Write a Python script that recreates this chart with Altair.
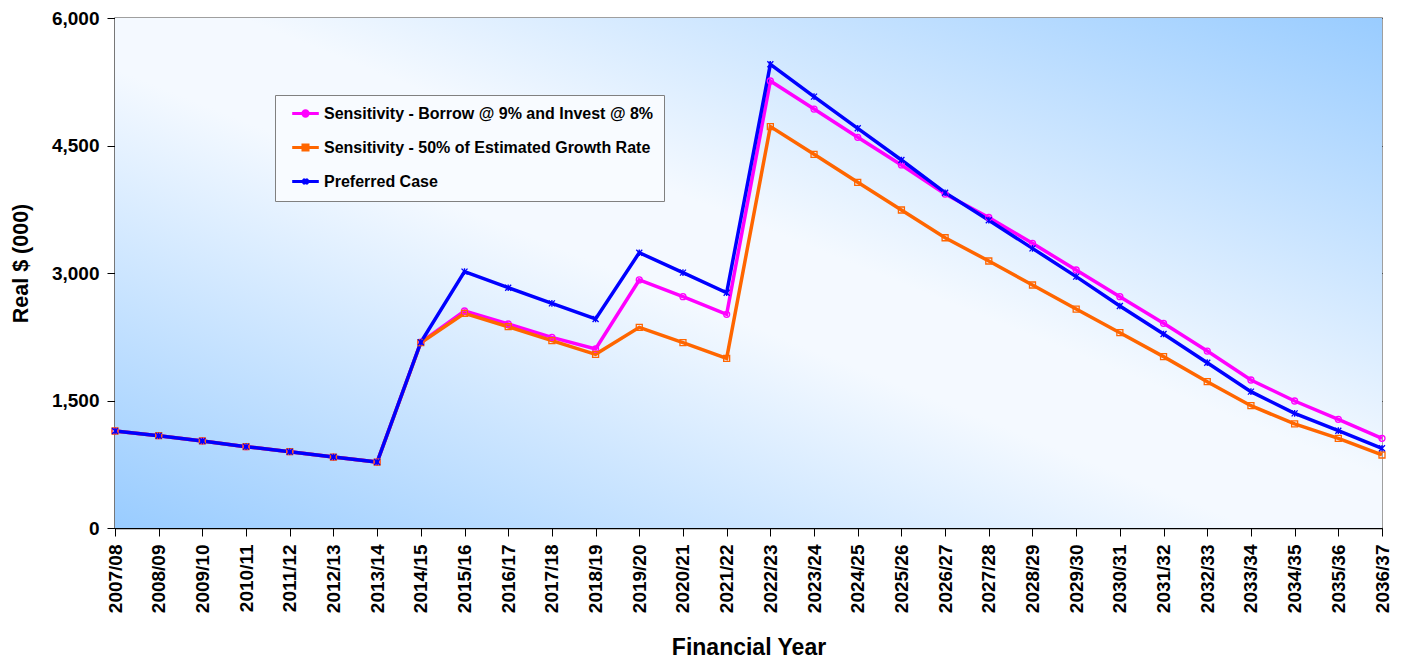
import altair as alt
import pandas as pd

# Financial years on the category axis
years = [
    "2007/08", "2008/09", "2009/10", "2010/11", "2011/12", "2012/13",
    "2013/14", "2014/15", "2015/16", "2016/17", "2017/18", "2018/19",
    "2019/20", "2020/21", "2021/22", "2022/23", "2023/24", "2024/25",
    "2025/26", "2026/27", "2027/28", "2028/29", "2029/30", "2030/31",
    "2031/32", "2032/33", "2033/34", "2034/35", "2035/36", "2036/37",
]

# Real $ (000) for each scenario
borrow = [
    1141, 1086, 1024, 957, 898, 835, 776, 2185, 2553, 2400, 2243, 2106,
    2918, 2721, 2514, 5259, 4929, 4596, 4271, 3929, 3653, 3349, 3035,
    2721, 2408, 2082, 1741, 1494, 1279, 1055,
]
growth = [
    1141, 1086, 1024, 957, 898, 835, 776, 2180, 2525, 2368, 2204, 2043,
    2361, 2180, 1996, 4722, 4396, 4067, 3741, 3415, 3141, 2859, 2576,
    2298, 2016, 1721, 1439, 1224, 1055, 859,
]
preferred = [
    1141, 1086, 1024, 957, 898, 835, 776, 2185, 3016, 2827, 2643, 2459,
    3239, 3004, 2768, 5455, 5075, 4702, 4329, 3945, 3620, 3290, 2957,
    2612, 2282, 1945, 1604, 1349, 1145, 938,
]

series_names = [
    "Sensitivity - Borrow @ 9% and Invest @ 8%",
    "Sensitivity - 50% of Estimated Growth Rate",
    "Preferred Case",
]
series_colors = ["#FF00FF", "#FF6600", "#0000FF"]

# marker glyphs for the plotted points
marker_paths = [
    "M1,0A1,1 0 1,1 -1,0A1,1 0 1,1 1,0Z",
    "M-1,-1L1,-1L1,1L-1,1Z",
    "M-1,-1L1,1M-1,1L1,-1M0,-1.1L0,1.1",
]
# legend glyphs: a short line with the marker in the middle
legend_paths = [
    "M-1.9,0L1.9,0M0.38,0A0.38,0.38 0 1,1 -0.38,0A0.38,0.38 0 1,1 0.38,0Z",
    "M-1.9,0L1.9,0M-0.36,-0.36L0.36,-0.36L0.36,0.36L-0.36,0.36Z",
    "M-1.9,0L1.9,0M-0.36,-0.36L0.36,0.36M-0.36,0.36L0.36,-0.36M0,-0.4L0,0.4",
]

rows = []
for name, vals in zip(series_names, [borrow, growth, preferred]):
    for yr, v in zip(years, vals):
        rows.append({"year": yr, "value": v, "series": name})
df = pd.DataFrame(rows)

W, H = 1267, 510
FONT = "Liberation Sans"

x_enc = alt.X(
    "year:N",
    sort=years,
    scale=alt.Scale(padding=0),
    axis=alt.Axis(
        title="Financial Year",
        labelAngle=270,
        labelAlign="right",
        labelBaseline="middle",
        labelPadding=8,
        titleFontSize=23,
        titleBaseline="middle",
        titleY=119,
        grid=False,
    ),
)
y_enc = alt.Y(
    "value:Q",
    scale=alt.Scale(domain=[0, 6000], nice=False),
    axis=alt.Axis(
        title="Real $ (000)",
        values=[0, 1500, 3000, 4500, 6000],
        format=",.0f",
        grid=True,
        labelPadding=8,
        titleFontSize=21.5,
        titleBaseline="middle",
        titleAlign="center",
        titleX=-94,
        titleY=245,
    ),
)

# diagonal light-blue / white wash behind the plot
background = alt.Chart(df).mark_rect(
    fill=alt.Gradient(
        gradient="linear",
        x1=0, y1=1, x2=1, y2=0,
        stops=[
            alt.GradientStop(color="#99CCFF", offset=0),
            alt.GradientStop(color="#F4F9FF", offset=0.45),
            alt.GradientStop(color="#F4F9FF", offset=0.55),
            alt.GradientStop(color="#99CCFF", offset=1),
        ],
    ),
).encode(
    x=alt.value(0), x2=alt.value(W), y=alt.value(0), y2=alt.value(H)
)

base = alt.Chart(df)

line_layers = []
point_layers = []
for name, col, path in zip(series_names, series_colors, marker_paths):
    sub = base.transform_filter(alt.datum.series == name)
    line_layers.append(
        sub.mark_line(color=col, strokeWidth=3.5).encode(x=x_enc, y=y_enc)
    )
    point_layers.append(
        sub.mark_point(
            shape=path, color=col, size=36, strokeWidth=1.3, filled=False, opacity=1
        ).encode(x=x_enc, y=y_enc)
    )

legend_layer = base.mark_point(opacity=0, filled=False).encode(
    x=x_enc,
    y=y_enc,
    color=alt.Color(
        "series:N",
        sort=series_names,
        scale=alt.Scale(domain=series_names, range=series_colors),
        legend=alt.Legend(title=None),
    ),
    shape=alt.Shape(
        "series:N",
        sort=series_names,
        scale=alt.Scale(domain=series_names, range=legend_paths),
        legend=alt.Legend(title=None),
    ),
)

chart = alt.layer(
    background, *line_layers, *point_layers, legend_layer
).properties(
    width=W,
    height=H,
    autosize=alt.AutoSizeParams(type="none"),
    padding={"left": 115, "top": 18, "right": 25, "bottom": 134},
).configure(
    font=FONT,
).configure_view(
    stroke="#808080", strokeWidth=1.5
).configure_axis(
    labelFont=FONT,
    titleFont=FONT,
    labelFontWeight="bold",
    titleFontWeight="bold",
    labelFontSize=19,
    labelColor="#000000",
    titleColor="#000000",
    domainColor="#000000",
    tickColor="#000000",
    gridColor="#000000",
    gridOpacity=1,
    gridWidth=1,
    tickSize=8,
    domainWidth=1.5,
).configure_legend(
    orient="none",
    legendX=160,
    legendY=77,
    fillColor="#F8FBFF",
    strokeColor="#808080",
    padding=10,
    labelFont=FONT,
    labelFontWeight="bold",
    labelFontSize=16,
    labelColor="#000000",
    labelLimit=0,
    labelOffset=10,
    symbolSize=196,
    symbolStrokeWidth=3,
    symbolOpacity=1,
    symbolOffset=12,
    symbolFillColor="#FFFFFF",
    rowPadding=15,
)

chart.save("out.html", embed_options={"renderer": "svg", "actions": False})
